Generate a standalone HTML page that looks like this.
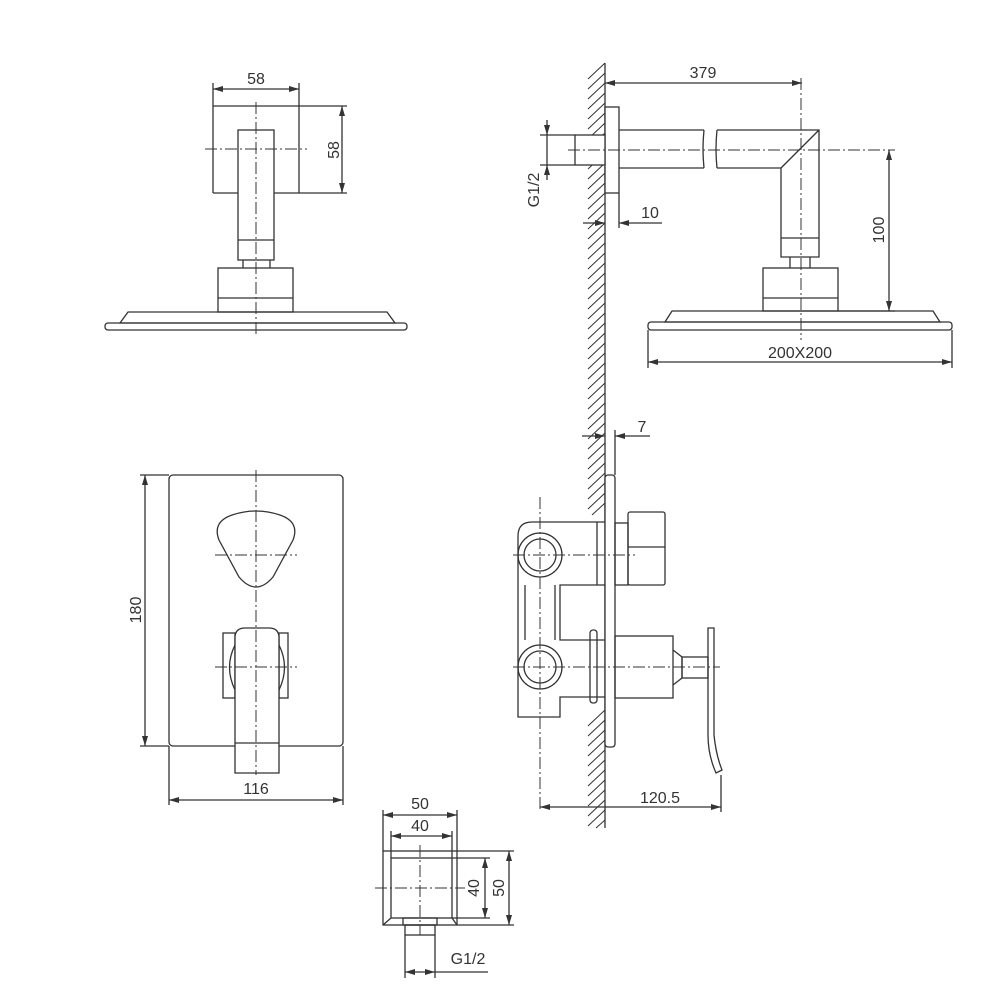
<!DOCTYPE html>
<html><head><meta charset="utf-8"><style>
html,body{margin:0;padding:0;background:#fff}
svg{display:block}
text{font-family:"Liberation Sans",sans-serif;font-size:16px;fill:#333}
</style></head><body>
<svg width="1000" height="1000" viewBox="0 0 1000 1000" xmlns="http://www.w3.org/2000/svg">
<defs>
<marker id="a" viewBox="0 0 10 6" refX="10" refY="3" markerWidth="10" markerHeight="6" markerUnits="userSpaceOnUse" orient="auto-start-reverse"><path d="M0,0 L10,3 L0,6 Z" fill="#333"/></marker>
</defs>
<g fill="none" stroke="#333" stroke-width="1.3">
<!-- TOP LEFT VIEW -->
<line x1="213" y1="83" x2="213" y2="193"/><line x1="299" y1="83" x2="299" y2="193"/>
<line x1="213" y1="89" x2="299" y2="89" marker-start="url(#a)" marker-end="url(#a)"/>
<line x1="213" y1="106" x2="347" y2="106"/><line x1="213" y1="193" x2="347" y2="193"/>
<line x1="342" y1="106" x2="342" y2="193" marker-start="url(#a)" marker-end="url(#a)"/>
<rect x="238" y="130" width="36" height="130" fill="#fff"/>
<line x1="238" y1="240" x2="274" y2="240"/>
<path d="M243,260 L243,268 M270,260 L270,268"/>
<rect x="218" y="268" width="75" height="44"/><line x1="218" y1="298" x2="293" y2="298"/>
<path d="M128,312 L387,312 L395,323 L120,323 Z"/>
<rect x="105" y="323" width="302" height="7" rx="3"/>
<g stroke-dasharray="12,3,2,3" stroke-width="1"><line x1="205" y1="149" x2="307" y2="149"/><line x1="256" y1="102" x2="256" y2="335"/></g>

<!-- WALL -->
<line x1="605" y1="63" x2="605" y2="828"/>
<g stroke-width="1">
<path d="M588,79 L605,63 M588,89 L605,73 M588,99 L605,83 M588,109 L605,93 M588,119 L605,103 M588,129 L605,113 M588,139 L605,123 M588,149 L605,133 M588,159 L605,143 M588,169 L605,153 M588,179 L605,163 M588,189 L605,173 M588,199 L605,183 M588,209 L605,193 M588,219 L605,203 M588,229 L605,213 M588,239 L605,223 M588,249 L605,233 M588,259 L605,243 M588,269 L605,253 M588,279 L605,263 M588,289 L605,273 M588,299 L605,283 M588,309 L605,293 M588,319 L605,303 M588,329 L605,313 M588,339 L605,323 M588,349 L605,333 M588,359 L605,343 M588,369 L605,353 M588,379 L605,363 M588,389 L605,373 M588,399 L605,383 M588,409 L605,393 M588,419 L605,403 M588,429 L605,413 M588,439 L605,423 M588,449 L605,433 M588,459 L605,443 M588,469 L605,453 M588,479 L605,463 M588,489 L605,473 M588,499 L605,483 M588,509 L605,493 M592,515 L605,503"/>
<path d="M588,726 L605,710 M588,736 L605,720 M588,746 L605,730 M588,756 L605,740 M588,766 L605,750 M588,776 L605,760 M588,786 L605,770 M588,796 L605,780 M588,806 L605,790 M588,816 L605,800 M588,826 L605,810 M596,828 L605,820"/>
</g>

<!-- TOP RIGHT VIEW -->
<line x1="605" y1="83" x2="802" y2="83" marker-start="url(#a)" marker-end="url(#a)"/>
<rect x="605" y="107" width="14" height="86" fill="#fff"/>
<line x1="619" y1="193" x2="619" y2="228"/>
<rect x="575" y="135" width="30" height="30" fill="#fff"/>
<path d="M619,130 L704,130 M619,168 L704,168 M704,130 Q702,149 704,168 M717,130 Q715,149 717,168"/>
<path d="M717,130 L819,130 L819,257 L781,257 L781,168 L717,168 M781,168 L819,130"/>
<line x1="781" y1="238" x2="819" y2="238"/>
<path d="M790,257 L790,268 M810,257 L810,268"/>
<rect x="763" y="268" width="75" height="43"/><line x1="763" y1="298" x2="838" y2="298"/>
<path d="M672,311 L933,311 L940,322 L665,322 Z"/>
<rect x="648" y="322" width="304" height="8" rx="3"/>
<g stroke-dasharray="12,3,2,3" stroke-width="1"><line x1="568" y1="150" x2="895" y2="150"/><line x1="801" y1="78" x2="801" y2="340"/></g>
<line x1="838" y1="311" x2="895" y2="311"/>
<line x1="889" y1="150" x2="889" y2="311" marker-start="url(#a)" marker-end="url(#a)"/>
<line x1="648" y1="330" x2="648" y2="368"/><line x1="952" y1="330" x2="952" y2="368"/>
<line x1="648" y1="362" x2="952" y2="362" marker-start="url(#a)" marker-end="url(#a)"/>
<line x1="540" y1="135" x2="575" y2="135"/><line x1="540" y1="165" x2="575" y2="165"/>
<line x1="547" y1="120" x2="547" y2="135" marker-end="url(#a)"/><line x1="547" y1="180" x2="547" y2="165" marker-end="url(#a)"/>
<line x1="547" y1="135" x2="547" y2="165"/>
<line x1="583" y1="223" x2="605" y2="223" marker-end="url(#a)"/>
<line x1="662" y1="223" x2="619" y2="223" marker-end="url(#a)"/>

<!-- MIXER SIDE -->
<line x1="615" y1="430" x2="615" y2="475"/>
<line x1="582" y1="436" x2="605" y2="436" marker-end="url(#a)"/>
<line x1="650" y1="436" x2="615" y2="436" marker-end="url(#a)"/>
<path d="M532,522 L605,522 M605,585 L560,585 L560,640 L605,640 M605,697 L560,697 L560,717 L518,717 L518,536 Q518,522 532,522"/>
<line x1="597" y1="522" x2="597" y2="585"/>
<rect x="605" y="475" width="10" height="272" rx="3" fill="#fff"/>
<circle cx="540" cy="555" r="22"/><circle cx="540" cy="555" r="16"/>
<circle cx="540" cy="667" r="22"/><circle cx="540" cy="667" r="16"/>
<path d="M525,585 L525,640 M555,585 L555,640"/>
<rect x="615" y="523" width="13" height="62"/>
<rect x="628" y="512" width="37" height="73" rx="2"/><line x1="628" y1="547" x2="665" y2="547"/>
<rect x="590" y="630" width="7" height="73" rx="3"/>
<rect x="615" y="636" width="58" height="62"/>
<path d="M673,650 L682,657 L682,678 L673,685"/>
<rect x="682" y="657" width="26" height="21"/>
<path d="M708,628 L714,628 L714,735 Q716,755 722,770 L716,773 Q708,755 708,735 Z"/>
<g stroke-dasharray="12,3,2,3" stroke-width="1"><line x1="513" y1="555" x2="635" y2="555"/><line x1="513" y1="667" x2="720" y2="667"/><line x1="540" y1="497" x2="540" y2="812"/></g>
<line x1="721" y1="775" x2="721" y2="812"/>
<line x1="540" y1="807" x2="721" y2="807" marker-start="url(#a)" marker-end="url(#a)"/>

<!-- MIXER FRONT -->
<rect x="169" y="475" width="174" height="271" rx="4"/>
<line x1="140" y1="475" x2="169" y2="475"/><line x1="140" y1="746" x2="169" y2="746"/>
<line x1="145" y1="475" x2="145" y2="746" marker-start="url(#a)" marker-end="url(#a)"/>
<line x1="169" y1="746" x2="169" y2="805"/><line x1="343" y1="746" x2="343" y2="805"/>
<line x1="169" y1="800" x2="343" y2="800" marker-start="url(#a)" marker-end="url(#a)"/>
<path d="M232,515 Q256,507 280,515 Q300,522 293,540 L273,577 Q256,597 239,577 L219,540 Q212,522 232,515 Z"/>
<rect x="223" y="633" width="12" height="65"/><rect x="279" y="633" width="9" height="65"/>
<path d="M235,645 Q224,667 235,690 M279,645 Q290,667 279,690"/>
<path d="M235,773 L235,638 Q235,628 245,628 L269,628 Q279,628 279,638 L279,773 Z" fill="#fff"/>
<line x1="235" y1="743" x2="279" y2="743"/>
<g stroke-dasharray="12,3,2,3" stroke-width="1"><line x1="215" y1="555" x2="297" y2="555"/><line x1="215" y1="667" x2="297" y2="667"/><line x1="256" y1="470" x2="256" y2="775"/></g>

<!-- OUTLET -->
<rect x="383" y="851" width="74" height="74"/>
<rect x="391" y="858" width="61" height="60"/>
<path d="M391,918 L383,925 M452,918 L457,925"/>
<rect x="403" y="918" width="34" height="7"/>
<rect x="405" y="925" width="30" height="10"/>
<line x1="383" y1="810" x2="383" y2="851"/><line x1="457" y1="810" x2="457" y2="851"/>
<line x1="383" y1="815" x2="457" y2="815" marker-start="url(#a)" marker-end="url(#a)"/>
<line x1="391" y1="831" x2="391" y2="858"/><line x1="452" y1="831" x2="452" y2="858"/>
<line x1="391" y1="836" x2="452" y2="836" marker-start="url(#a)" marker-end="url(#a)"/>
<line x1="452" y1="858" x2="490" y2="858"/><line x1="452" y1="918" x2="490" y2="918"/>
<line x1="485" y1="858" x2="485" y2="918" marker-start="url(#a)" marker-end="url(#a)"/>
<line x1="457" y1="851" x2="514" y2="851"/><line x1="457" y1="925" x2="514" y2="925"/>
<line x1="509" y1="851" x2="509" y2="925" marker-start="url(#a)" marker-end="url(#a)"/>
<line x1="405" y1="935" x2="405" y2="978"/><line x1="435" y1="935" x2="435" y2="978"/>
<line x1="405" y1="972" x2="435" y2="972" marker-start="url(#a)" marker-end="url(#a)"/>
<line x1="435" y1="972" x2="488" y2="972"/>
<g stroke-dasharray="12,3,2,3" stroke-width="1"><line x1="420" y1="845" x2="420" y2="935"/><line x1="375" y1="888" x2="465" y2="888"/></g>
</g>

<g>
<text x="256" y="84" text-anchor="middle">58</text>
<text transform="translate(339,150) rotate(-90)" text-anchor="middle">58</text>
<text x="703" y="78" text-anchor="middle">379</text>
<text transform="translate(539,190) rotate(-90)" text-anchor="middle">G1/2</text>
<text x="650" y="218" text-anchor="middle">10</text>
<text transform="translate(884,230) rotate(-90)" text-anchor="middle">100</text>
<text x="800" y="358" text-anchor="middle">200X200</text>
<text x="642" y="432" text-anchor="middle">7</text>
<text x="660" y="803" text-anchor="middle">120.5</text>
<text transform="translate(141,610) rotate(-90)" text-anchor="middle">180</text>
<text x="256" y="794" text-anchor="middle">116</text>
<text x="420" y="809" text-anchor="middle">50</text>
<text x="420" y="831" text-anchor="middle">40</text>
<text transform="translate(479,888) rotate(-90)" text-anchor="middle">40</text>
<text transform="translate(504,888) rotate(-90)" text-anchor="middle">50</text>
<text x="468" y="964" text-anchor="middle">G1/2</text>
</g>
</svg>
</body></html>
